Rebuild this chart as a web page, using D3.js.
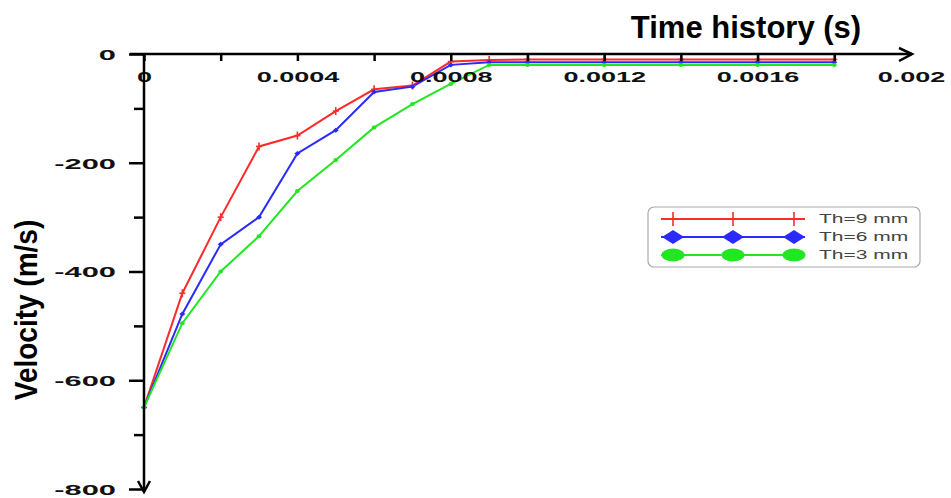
<!DOCTYPE html>
<html>
<head>
<meta charset="utf-8">
<script src="https://cdn.jsdelivr.net/npm/d3@7"></script>
<style>
  html, body { margin: 0; padding: 0; background: #fff; }
  svg { display: block; }
  text { font-family: "Liberation Sans", Arial, sans-serif; }
</style>
</head>
<body>
<svg id="chart" width="951" height="498"></svg>
<script>
// ---- data ----
const time = [0, 0.0001, 0.0002, 0.0003, 0.0004, 0.0005, 0.0006, 0.0007, 0.0008, 0.0009, 0.001, 0.0012, 0.0014, 0.0016, 0.0018];
const th9 = [-650, -440, -300, -170, -150, -105, -65, -58, -14, -11, -10, -10, -10, -10, -10];
const th6 = [-650, -478, -350, -300, -183, -140, -70, -60, -20, -15, -15, -15, -15, -15, -15];
const th3 = [-650, -495, -400, -335, -252, -195, -135, -92, -55, -20, -20, -20, -20, -20, -20];
const seriesNames = ["Th=9 mm", "Th=6 mm", "Th=3 mm"];
const xMinorTicks = [0, 0.0002, 0.0004, 0.0006, 0.0008, 0.001, 0.0012, 0.0014, 0.0016, 0.0018];
const xLabelTicks = [0, 0.0004, 0.0008, 0.0012, 0.0016, 0.002];
const xTickLabels = ["0", "0.0004", "0.0008", "0.0012", "0.0016", "0.002"];
const yMajorTicks = [0, -200, -400, -600, -800];
const yTickLabels = ["0", "-200", "-400", "-600", "-800"];
const yMinorTicks = [-100, -300, -500, -700];
const xTitle = "Time history (s)";
const yTitle = "Velocity (m/s)";

const colors = ["#ff2a2a", "#2a2aff", "#22e622"];
const seriesData = [th9, th6, th3];
const markerTypes = ["tick", "diamond", "circle"];

const svg = d3.select("#chart");
const x = d3.scaleLinear().domain([0, 0.002]).range([144, 911]);
const y = d3.scaleLinear().domain([-800, 0]).range([489, 54]);

const axisColor = "#000";

// ---- series lines ----
const line = d3.line().x((d, i) => x(time[i])).y(d => y(d));
seriesData.forEach((vals, k) => {
  svg.append("path")
    .datum(vals)
    .attr("d", line)
    .attr("fill", "none")
    .attr("stroke", colors[k])
    .attr("stroke-width", 2);
});

function drawMarker(g, type, cx, cy, color) {
  if (type === "tick") {
    g.append("line").attr("x1", cx).attr("x2", cx).attr("y1", cy - 4).attr("y2", cy + 4)
      .attr("stroke", color).attr("stroke-width", 1.6);
    g.append("line").attr("x1", cx - 3).attr("x2", cx + 3).attr("y1", cy).attr("y2", cy)
      .attr("stroke", color).attr("stroke-width", 1.6);
  } else if (type === "diamond") {
    g.append("path").attr("d", `M${cx - 3},${cy}L${cx},${cy - 2.5}L${cx + 3},${cy}L${cx},${cy + 2.5}Z`).attr("fill", color);
  } else {
    g.append("ellipse").attr("cx", cx).attr("cy", cy).attr("rx", 2.4).attr("ry", 2).attr("fill", color);
  }
}

const mg = svg.append("g");
seriesData.forEach((vals, k) => {
  vals.forEach((v, i) => drawMarker(mg, markerTypes[k], x(time[i]), y(v), colors[k]));
});

// ---- axes ----
const xTickAxis = d3.axisBottom(x).tickValues(xMinorTicks).tickSize(7).tickFormat("");
const gxt = svg.append("g").attr("transform", "translate(0,54)").call(xTickAxis);
gxt.select(".domain").remove();
gxt.selectAll(".tick line").attr("stroke", axisColor).attr("stroke-width", 2.5);

const xLabelAxis = d3.axisBottom(x).tickValues(xLabelTicks).tickSize(0)
  .tickFormat((d, i) => xTickLabels[i]);
const gxl = svg.append("g").attr("transform", "translate(0,54)").call(xLabelAxis);
gxl.select(".domain").remove();
gxl.selectAll(".tick text")
  .attr("y", 23).attr("dy", "0.35em")
  .attr("transform", "scale(1.8,1)")
  .attr("font-size", 15).attr("font-weight", "bold").attr("fill", "#111");

const yMinorAxis = d3.axisLeft(y).tickValues(yMinorTicks).tickSize(10).tickFormat("");
const gym = svg.append("g").attr("transform", "translate(144,0)").call(yMinorAxis);
gym.select(".domain").remove();
gym.selectAll(".tick line").attr("stroke", axisColor).attr("stroke-width", 2.5);

const yMajorAxis = d3.axisLeft(y).tickValues(yMajorTicks).tickSize(15)
  .tickFormat((d, i) => yTickLabels[i]);
const gyM = svg.append("g").attr("transform", "translate(144,0)").call(yMajorAxis);
gyM.select(".domain").remove();
gyM.selectAll(".tick line").attr("stroke", axisColor).attr("stroke-width", 2.5);
gyM.selectAll(".tick text")
  .attr("x", -13.7).attr("dy", "0.36em")
  .attr("transform", "scale(2.05,1)")
  .attr("font-size", 15).attr("font-weight", "bold").attr("fill", "#111");

svg.append("line").attr("x1", 130).attr("x2", 912).attr("y1", y(0)).attr("y2", y(0))
  .attr("stroke", axisColor).attr("stroke-width", 2.5);
svg.append("path").attr("d", `M899,48L912,${y(0)}L899,61`)
  .attr("fill", "none").attr("stroke", axisColor).attr("stroke-width", 2.5);
svg.append("line").attr("x1", 144).attr("x2", 144).attr("y1", y(0)).attr("y2", 492)
  .attr("stroke", axisColor).attr("stroke-width", 2.5);
svg.append("path").attr("d", `M138,481L144,492L150,481`)
  .attr("fill", "none").attr("stroke", axisColor).attr("stroke-width", 2.5);

// ---- titles ----
svg.append("text").attr("x", 746).attr("y", 38).attr("text-anchor", "middle")
  .attr("font-size", 31).attr("font-weight", "bold").attr("fill", "#000").text(xTitle);
svg.append("text").attr("transform", "translate(37,310) rotate(-90) scale(1,1.15)").attr("text-anchor", "middle")
  .attr("font-size", 28).attr("font-weight", "bold").attr("fill", "#000").text(yTitle);

// ---- legend ----
const lg = svg.append("g");
lg.append("rect").attr("x", 648).attr("y", 207).attr("width", 272).attr("height", 60)
  .attr("rx", 6).attr("fill", "#fff").attr("stroke", "#aaa").attr("stroke-width", 1.2);
const legY = [219, 237, 255];
const legMarkX = [673, 733, 794];
seriesNames.forEach((name, k) => {
  lg.append("line").attr("x1", 661).attr("x2", 805).attr("y1", legY[k]).attr("y2", legY[k])
    .attr("stroke", colors[k]).attr("stroke-width", 1.8);
  legMarkX.forEach(mx => {
    if (markerTypes[k] === "tick") {
      lg.append("line").attr("x1", mx).attr("x2", mx).attr("y1", legY[k] - 7).attr("y2", legY[k] + 7)
        .attr("stroke", colors[k]).attr("stroke-width", 1.6);
    } else if (markerTypes[k] === "diamond") {
      lg.append("path").attr("d", `M${mx - 11},${legY[k]}L${mx},${legY[k] - 7}L${mx + 11},${legY[k]}L${mx},${legY[k] + 7}Z`)
        .attr("fill", colors[k]);
    } else {
      lg.append("ellipse").attr("cx", mx).attr("cy", legY[k]).attr("rx", 11.5).attr("ry", 6.5).attr("fill", colors[k]);
    }
  });
  lg.append("text").attr("transform", `translate(819,${legY[k]}) scale(1.75,1)`)
    .attr("dy", "0.36em").attr("font-size", 12).attr("fill", "#444").text(name);
});
</script>
</body>
</html>
